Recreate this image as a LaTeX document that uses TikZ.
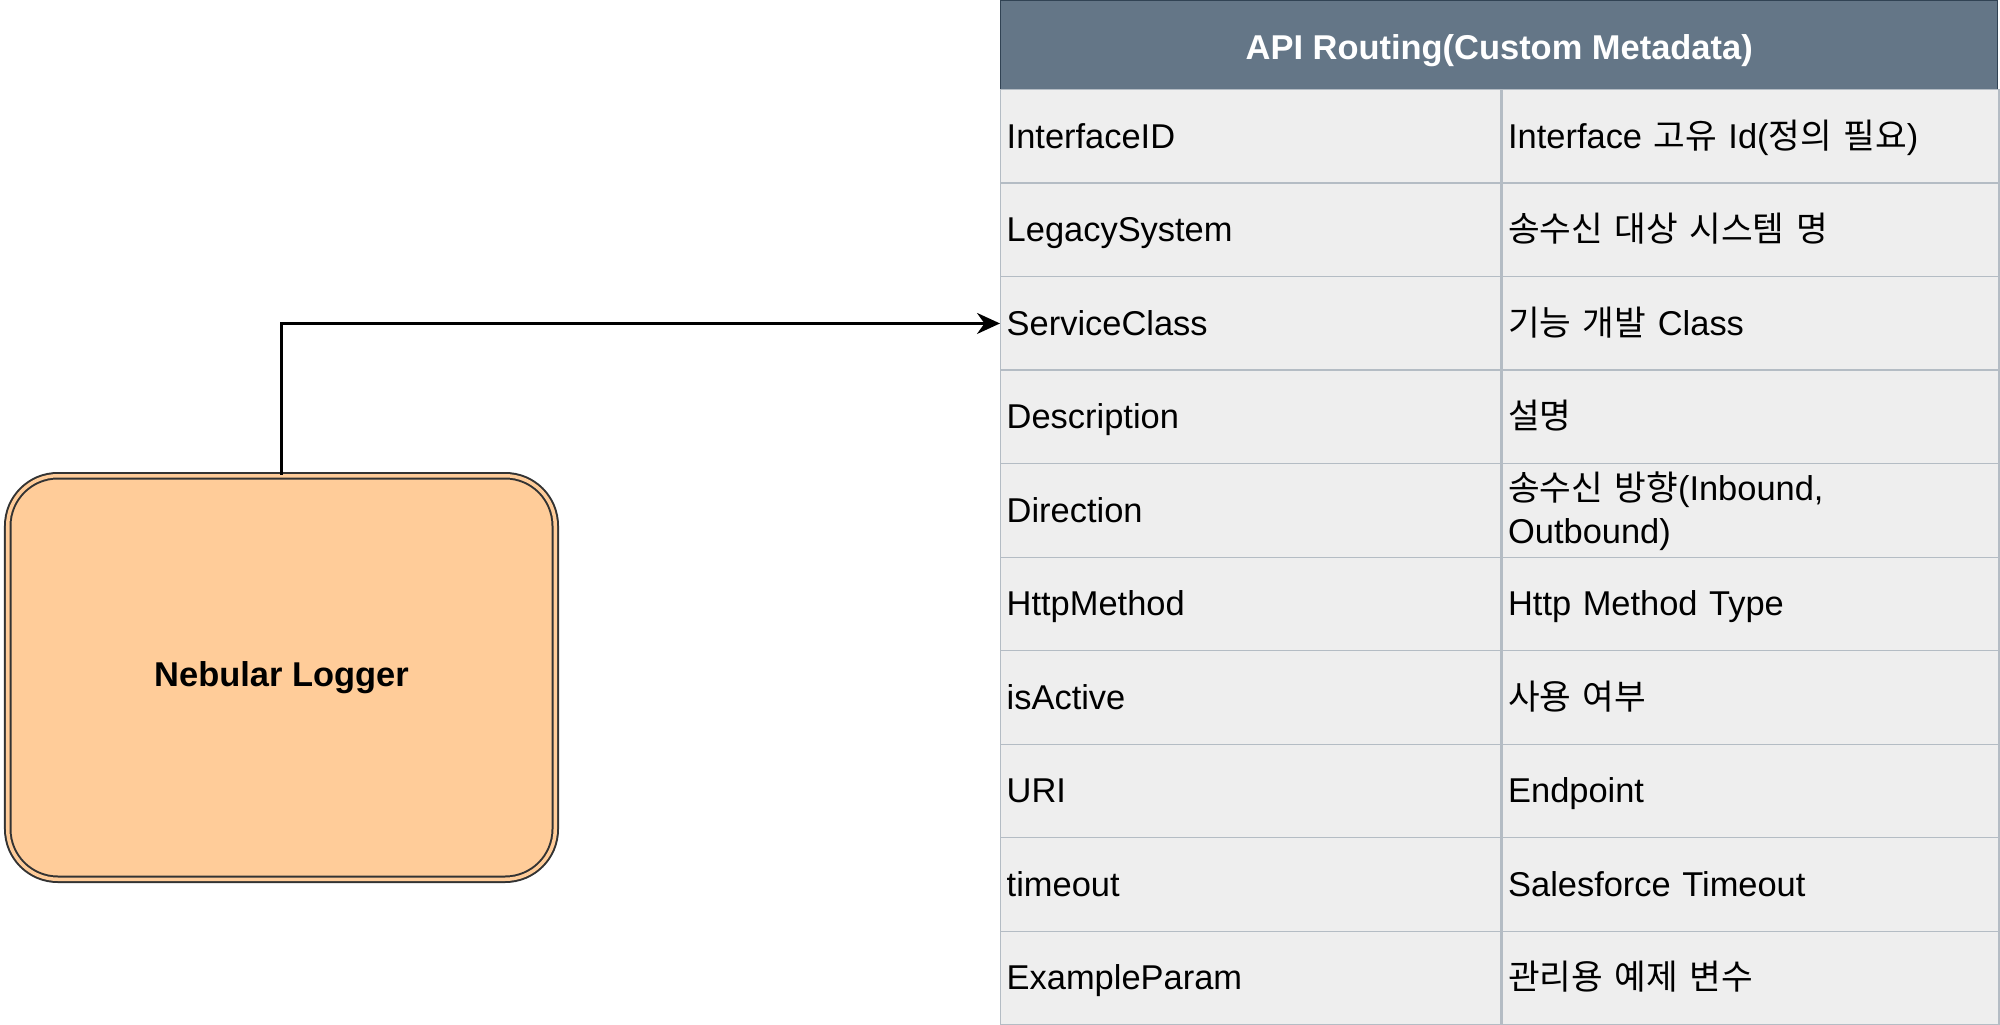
\documentclass[tikz,border=0pt]{standalone}
\usepackage{fontspec}
\setmainfont{Liberation Sans}
\newfontfamily\kr{Noto Sans CJK KR}
\usepackage{tikz}
\usetikzlibrary{
    arrows.meta,
    positioning
}
\definecolor{slate}{HTML}{647687}
\definecolor{slateline}{HTML}{314354}
\definecolor{cellfill}{HTML}{EEEEEE}
\definecolor{cellline}{HTML}{B4BCC4}
\definecolor{peach}{HTML}{FFCC99}
\newcommand{\cellstrut}{\rule[-3.66pt]{0pt}{13.9pt}}
\tikzset{
    cell/.style={draw=cellline, fill=cellfill, minimum height=0.935cm,
        inner xsep=0.06cm, inner ysep=0pt, align=left,
        execute at begin node=\cellstrut, execute at end node=\strut},
    keycell/.style={cell, text width=4.88cm, anchor=north west},
    valcell/.style={cell, text width=4.85cm, right=0pt of #1},
    logger/.style={draw=black!80, line width=0.02cm, double=peach,
        double distance=0.035cm, fill=peach, rounded corners=0.5cm,
        minimum width=5.475cm, minimum height=4.035cm, font=\bfseries}
}
\begin{document}
\fontsize{9.8pt}{12.2pt}\selectfont
\begin{tikzpicture}
    \useasboundingbox (0, 0) rectangle (20, -10.25);
    \node[logger] (logger) at (2.815, -6.775) {Nebular Logger};
    \node[fill=slate, draw=slateline, minimum width=9.97cm, minimum height=0.89cm,
        text height=0.35cm, text depth=0.07cm,
        anchor=north west, text=white, font=\bfseries] (head) at (10, 0)
        {API Routing(Custom Metadata)};
    \foreach \k/\v [count=\i] in {
        InterfaceID/{Interface {\kr 고유} Id({\kr 정의 필요})},
        LegacySystem/{\kr 송수신 대상 시스템 명},
        ServiceClass/{{\kr 기능 개발} Class},
        Description/{\kr 설명},
        Direction/{{\kr 송수신 방향}(Inbound,\\Outbound)},
        HttpMethod/{Http Method Type},
        isActive/{\kr 사용 여부},
        URI/Endpoint,
        timeout/{Salesforce Timeout},
        ExampleParam/{\kr 관리용 예제 변수}} {
        \node[keycell] (key\i) at (10, {-0.89 - 0.935*(\i - 1)}) {\k};
        \node[valcell=key\i] (val\i) {\v};
    }
    \draw[-{Stealth[length=0.23cm, width=0.21cm]}, line width=0.025cm]
        (logger.north) |- (key3.west);
\end{tikzpicture}
\end{document}
